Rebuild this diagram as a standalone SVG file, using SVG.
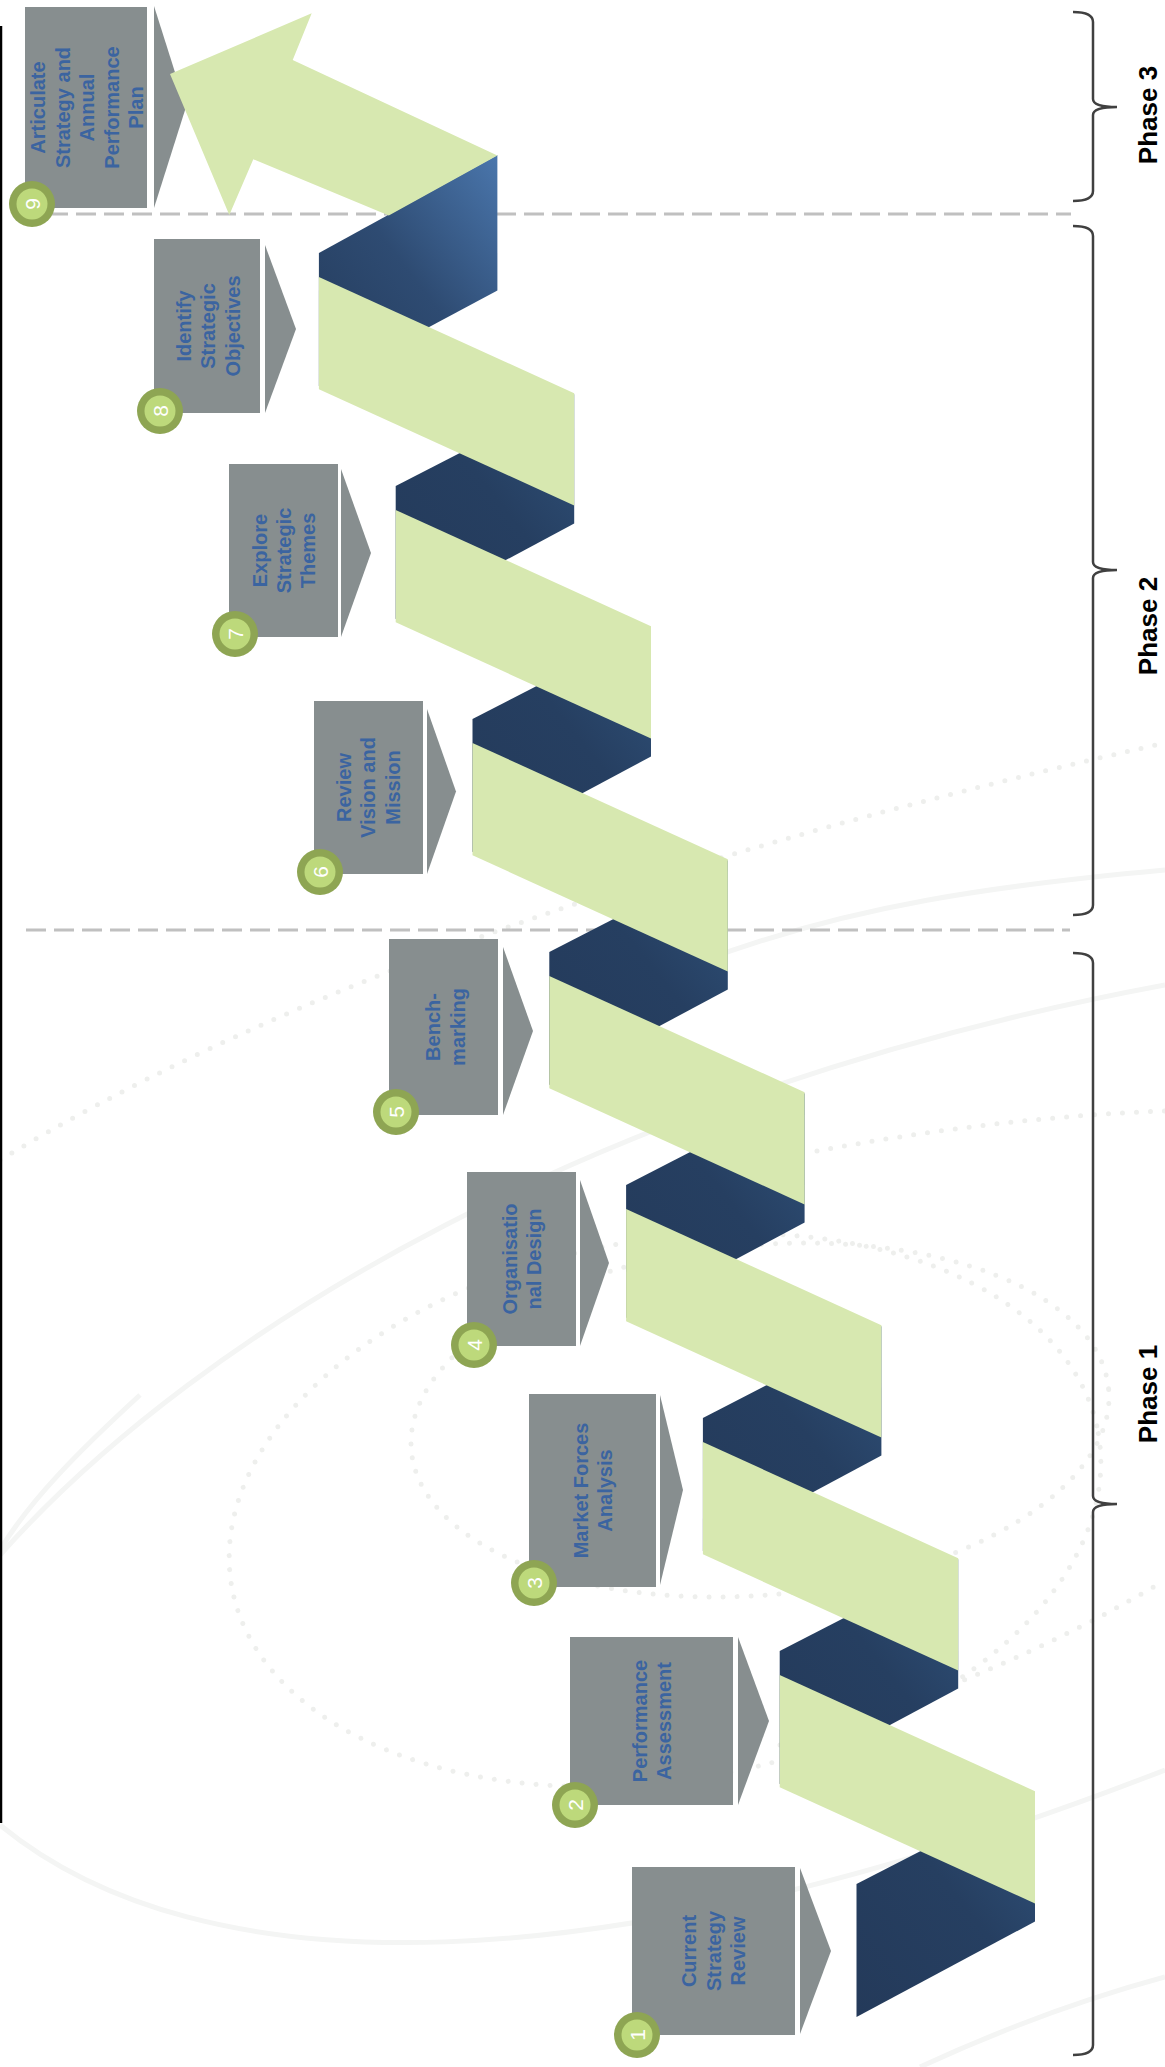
<svg xmlns="http://www.w3.org/2000/svg" width="1165" height="2067" viewBox="0 0 1165 2067">
  <defs>
    <style>
      .bg-line { fill: none; stroke: #f4f5f4; stroke-width: 5; }
      .bg-dots { fill: none; stroke: #eeefed; stroke-width: 5; stroke-linecap: round; stroke-dasharray: 0 14; }
      .divider { fill: none; stroke: #c0c0c0; stroke-width: 3; stroke-dasharray: 20 8; }
      .box { fill: #878e8f; }
      .chev { fill: #878e8f; }
      .ring { fill: #8ea553; }
      .dot { fill: #bdd97b; }
      .num { font-family: "Liberation Sans", Arial, sans-serif; font-size: 21px; fill: #ffffff; text-anchor: middle; }
      .lbl { font-family: "Liberation Sans", Arial, sans-serif; font-size: 20px; font-weight: bold; fill: #3b64a0; text-anchor: middle; }
      .band { fill: #d7e8b0; }
      .fold { fill: url(#foldGrad); }
      .brace { fill: none; stroke: #404040; stroke-width: 2.5; }
      .phase { font-family: "Liberation Sans", Arial, sans-serif; font-size: 26px; font-weight: bold; fill: #000000; text-anchor: middle; }
    </style>
    <linearGradient id="foldGrad" x1="1" y1="0" x2="0" y2="1">
      <stop offset="0" stop-color="#30527b"/>
      <stop offset="0.45" stop-color="#263f61"/>
      <stop offset="1" stop-color="#243a5a"/>
    </linearGradient>
    <linearGradient id="foldTopGrad" x1="1" y1="0" x2="0" y2="1">
      <stop offset="0" stop-color="#4a76ac"/>
      <stop offset="0.5" stop-color="#2e4b72"/>
      <stop offset="1" stop-color="#243b5b"/>
    </linearGradient>
  </defs>

  <rect width="1165" height="2067" fill="#ffffff"/>

  <!-- faint background swirls -->
  <g id="background">
    <path class="bg-line" d="M0,1555 C200,1330 600,1090 1165,985"/>
    <path class="bg-line" d="M700,962 C850,905 1000,885 1165,870"/>
    <path class="bg-line" d="M0,1825 C200,1990 600,1990 1165,1770"/>
    <path class="bg-line" d="M140,1395 C80,1450 30,1500 0,1550"/>
    <path class="bg-line" d="M920,2067 C1000,2030 1080,2000 1165,1977"/>
    <path class="bg-dots" d="M0,1160 C250,1010 600,870 1165,743"/>
    <ellipse class="bg-dots" cx="665" cy="1510" rx="440" ry="270" transform="rotate(-10 665 1510)"/>
    <ellipse class="bg-dots" cx="760" cy="1420" rx="350" ry="175" transform="rotate(-5 760 1420)"/>
    <path class="bg-dots" d="M780,1745 C900,1710 1050,1650 1165,1580"/>
    <path class="bg-dots" d="M817,1151 C930,1130 1050,1115 1165,1111"/>
  </g>

  <!-- phase dividers -->
  <g id="dividers">
    <path class="divider" d="M48,214 H1071"/>
    <path class="divider" d="M26,930 H1070"/>
  </g>

  <!-- steps -->
  <g id="step1">
    <rect class="box" x="632" y="1867" width="163" height="168"/>
    <polygon class="chev" points="800,1868 831,1951 800,2034"/>
    <circle class="ring" cx="637" cy="2035" r="23"/>
    <circle class="dot" cx="637" cy="2035" r="15.5"/>
    <text class="num" transform="translate(637 2035) rotate(-90)" y="7.5">1</text>
    <text class="lbl" transform="translate(713.5 1951) rotate(-90)"><tspan x="0" y="-17.5">Current</tspan><tspan x="0" y="7">Strategy</tspan><tspan x="0" y="31.5">Review</tspan></text>
  </g>
  <g id="step2">
    <rect class="box" x="570" y="1637" width="163" height="168"/>
    <polygon class="chev" points="738,1637 769,1721 738,1805"/>
    <circle class="ring" cx="575" cy="1805" r="23"/>
    <circle class="dot" cx="575" cy="1805" r="15.5"/>
    <text class="num" transform="translate(575 1805) rotate(-90)" y="7.5">2</text>
    <text class="lbl" transform="translate(651.5 1721) rotate(-90)"><tspan x="0" y="-5">Performance</tspan><tspan x="0" y="19">Assessment</tspan></text>
  </g>
  <g id="step3">
    <rect class="box" x="529" y="1394" width="127" height="193"/>
    <polygon class="chev" points="660,1395 683,1490 660,1585"/>
    <circle class="ring" cx="534" cy="1583" r="23"/>
    <circle class="dot" cx="534" cy="1583" r="15.5"/>
    <text class="num" transform="translate(534 1583) rotate(-90)" y="7.5">3</text>
    <text class="lbl" transform="translate(593 1490.5) rotate(-90)"><tspan x="0" y="-5">Market Forces</tspan><tspan x="0" y="19">Analysis</tspan></text>
  </g>
  <g id="step4">
    <rect class="box" x="467" y="1172" width="109" height="174"/>
    <polygon class="chev" points="580,1180 609,1263 580,1346"/>
    <circle class="ring" cx="474" cy="1345" r="23"/>
    <circle class="dot" cx="474" cy="1345" r="15.5"/>
    <text class="num" transform="translate(474 1345) rotate(-90)" y="7.5">4</text>
    <text class="lbl" transform="translate(521.5 1259) rotate(-90)"><tspan x="0" y="-5">Organisatio</tspan><tspan x="0" y="19">nal Design</tspan></text>
  </g>
  <g id="step5">
    <rect class="box" x="389" y="939" width="109" height="176"/>
    <polygon class="chev" points="503,947 533,1031 503,1115"/>
    <circle class="ring" cx="396" cy="1112" r="23"/>
    <circle class="dot" cx="396" cy="1112" r="15.5"/>
    <text class="num" transform="translate(396 1112) rotate(-90)" y="7.5">5</text>
    <text class="lbl" transform="translate(445 1027) rotate(-90)"><tspan x="0" y="-5">Bench-</tspan><tspan x="0" y="19.5">marking</tspan></text>
  </g>
  <g id="step6">
    <rect class="box" x="314" y="701" width="109" height="173"/>
    <polygon class="chev" points="427,709 456,791.5 427,874"/>
    <circle class="ring" cx="320" cy="872" r="23"/>
    <circle class="dot" cx="320" cy="872" r="15.5"/>
    <text class="num" transform="translate(320 872) rotate(-90)" y="7.5">6</text>
    <text class="lbl" transform="translate(368 787.5) rotate(-90)"><tspan x="0" y="-17.5">Review</tspan><tspan x="0" y="7">Vision and</tspan><tspan x="0" y="31.5">Mission</tspan></text>
  </g>
  <g id="step7">
    <rect class="box" x="229" y="464" width="109" height="173"/>
    <polygon class="chev" points="341,469 371,553 341,637"/>
    <circle class="ring" cx="235" cy="634" r="23"/>
    <circle class="dot" cx="235" cy="634" r="15.5"/>
    <text class="num" transform="translate(235 634) rotate(-90)" y="7.5">7</text>
    <text class="lbl" transform="translate(283.5 550.5) rotate(-90)"><tspan x="0" y="-17">Explore</tspan><tspan x="0" y="7">Strategic</tspan><tspan x="0" y="31">Themes</tspan></text>
  </g>
  <g id="step8">
    <rect class="box" x="154" y="239" width="106" height="174"/>
    <polygon class="chev" points="265,245 296,329 265,413"/>
    <circle class="ring" cx="160" cy="411" r="23"/>
    <circle class="dot" cx="160" cy="411" r="15.5"/>
    <text class="num" transform="translate(160 411) rotate(-90)" y="7.5">8</text>
    <text class="lbl" transform="translate(208 326) rotate(-90)"><tspan x="0" y="-17">Identify</tspan><tspan x="0" y="7">Strategic</tspan><tspan x="0" y="31.5">Objectives</tspan></text>
  </g>
  <g id="step9">
    <rect class="box" x="25" y="7" width="122" height="201"/>
    <polygon class="chev" points="154,6 186,107 154,208"/>
    <circle class="ring" cx="32" cy="204" r="23"/>
    <circle class="dot" cx="32" cy="204" r="15.5"/>
    <text class="num" transform="translate(32 204) rotate(-90)" y="7.5">9</text>
    <text class="lbl" transform="translate(87 107.5) rotate(-90)"><tspan x="0" y="-42">Articulate</tspan><tspan x="0" y="-17.5">Strategy and</tspan><tspan x="0" y="7">Annual</tspan><tspan x="0" y="31.5">Performance</tspan><tspan x="0" y="56">Plan</tspan></text>
  </g>

  <!-- zig-zag ribbon connecting the steps: folds first, faces on top -->
  <g id="connectors">
    <polygon class="fold" points="856.5,1884 1035,1792.2 1035,1921.5 856.5,2017"/>
    <polygon class="fold" points="779.7,1651 958.2,1559.2 958.2,1688.5 779.7,1784"/>
    <polygon class="fold" points="702.9,1418 881.4,1326.2 881.4,1455.5 702.9,1551"/>
    <polygon class="fold" points="626.1,1185 804.6,1093.2 804.6,1222.5 626.1,1318"/>
    <polygon class="fold" points="549.3,952 727.8,860.2 727.8,989.5 549.3,1085"/>
    <polygon class="fold" points="472.5,719 651,627.2 651,756.5 472.5,852"/>
    <polygon class="fold" points="395.7,486 574.2,394.2 574.2,523.5 395.7,619"/>
    <polygon fill="url(#foldTopGrad)" points="318.9,253 497.4,155 497.4,290.5 318.9,386"/>

    <polygon class="band" points="779.7,1675 1035,1791.2 1035,1903.5 779.7,1787.3"/>
    <polygon class="band" points="702.9,1442 958.2,1558.2 958.2,1670.5 702.9,1554.3"/>
    <polygon class="band" points="626.1,1209 881.4,1325.2 881.4,1437.5 626.1,1321.3"/>
    <polygon class="band" points="549.3,976 804.6,1092.2 804.6,1204.5 549.3,1088.3"/>
    <polygon class="band" points="472.5,743 727.8,859.2 727.8,971.5 472.5,855.3"/>
    <polygon class="band" points="395.7,510 651,626.2 651,738.5 395.7,622.3"/>
    <polygon class="band" points="318.9,277 574.2,393.2 574.2,505.5 318.9,389.3"/>

    <polygon class="band" points="170,74 311.7,13.3 292.7,60 497.4,155.5 388.8,215.6 253.3,159.3 229.3,215"/>
  </g>

  <!-- phase brackets -->
  <g id="phase3">
    <path class="brace" d="M1073,12 Q1093,12 1093,22 L1093,99 Q1093,107 1117,107 Q1093,107 1093,115 L1093,191 Q1093,201 1073,201"/>
    <text class="phase" transform="translate(1148 115) rotate(-90)" y="9">Phase 3</text>
  </g>
  <g id="phase2">
    <path class="brace" d="M1073,226 Q1093,226 1093,236 L1093,562 Q1093,570 1117,570 Q1093,570 1093,578 L1093,905 Q1093,915 1073,915"/>
    <text class="phase" transform="translate(1148 626) rotate(-90)" y="9">Phase 2</text>
  </g>
  <g id="phase1">
    <path class="brace" d="M1073,953 Q1093,953 1093,963 L1093,1496 Q1093,1504 1117,1504 Q1093,1504 1093,1512 L1093,2045 Q1093,2055 1073,2055"/>
    <text class="phase" transform="translate(1148 1394) rotate(-90)" y="9">Phase 1</text>
  </g>

  <path d="M1,26 V1823" stroke="#000000" stroke-width="2.5" fill="none"/>
</svg>
